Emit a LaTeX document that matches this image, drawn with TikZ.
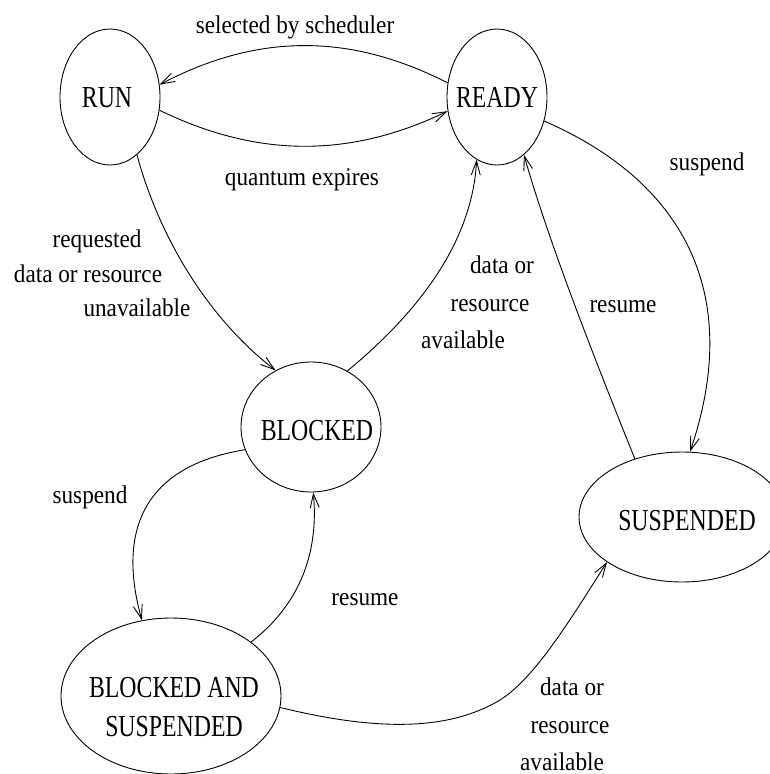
\documentclass[tikz,border=0pt]{standalone}
\usepackage{fontspec}
\setmainfont{Liberation Serif}
\newfontfamily\nodefont[FakeStretch=0.78]{Liberation Serif}
\newfontfamily\labfont[FakeStretch=0.91]{Liberation Serif}
\usetikzlibrary{shapes.geometric,arrows.meta}
\newcommand{\nt}[3]{\makebox[0pt]{\kern#1\relax\raisebox{#2}[0pt][0pt]{#3}\kern-#1\relax}}
\begin{document}
\begin{tikzpicture}[x=1pt,y=-1pt,line width=0.9pt,
  state/.style={ellipse,draw,inner sep=0pt,font=\nodefont\fontsize{30.5}{39}\selectfont},
  lab/.style={font=\labfont\fontsize{25.5}{30}\selectfont,inner sep=0pt,anchor=base},
  arr/.style={-{Straight Barb[length=14pt,width=9pt]}}]
\useasboundingbox (0,0) rectangle (769,774);
\node[state,minimum width=100pt,minimum height=136pt] (run) at (110,97) {\nt{-3pt}{-10pt}{RUN}};
\node[state,minimum width=100pt,minimum height=136pt] (ready) at (497,97) {\nt{0pt}{-10pt}{READY}};
\node[state,minimum width=140pt,minimum height=130pt] (blocked) at (311,427) {\nt{6pt}{-13pt}{BLOCKED}};
\node[state,minimum width=206pt,minimum height=130pt] (susp) at (682,517) {\nt{5pt}{-13pt}{SUSPENDED}};
\node[state,minimum width=220pt,minimum height=156pt] (bs) at (171,696) {\nt{3pt}{-1pt}{\begin{tabular}[t]{@{}c@{}}BLOCKED AND\\SUSPENDED\end{tabular}}};

\draw[arr] (run.-15.4) .. controls (258,158) and (350,158) .. (ready.196.4);
\draw[arr] (ready.164.6) .. controls (350,33) and (258,33) .. (run.14.8);
\draw[arr] (run.-65.6) .. controls (160,240) and (210,320) .. (blocked.122.2);
\draw[arr] (blocked.57.8) .. controls (415,315) and (472,245) .. (ready.-108);
\draw[arr] (ready.-27.4) .. controls (680,180) and (745,290) .. (susp.83);
\draw[arr] (susp.129.2) .. controls (595,360) and (548,240) .. (ready.-65.5);
\draw[arr] (blocked.199.4) .. controls (120,470) and (125,560) .. (bs.111.9);
\draw[arr] (bs.34) .. controls (290,612) and (320,565) .. (blocked.-88.3);
\draw[arr] (bs.-6.8) .. controls (380,732) and (450,730) .. (500,700) .. controls (535,678) and (570,620) .. (susp.211.3);

\node[lab] (l1) at (295,33) {selected by scheduler};
\node[lab] (l2) at (302,185) {quantum expires};
\node[lab] (l3) at (707,170) {suspend};
\node[lab] (l4) at (97,247) {requested};
\node[lab] (l5) at (88,282) {data or resource};
\node[lab] (l6) at (137,316) {unavailable};
\node[lab] (l7) at (502,273) {data or};
\node[lab] (l8) at (490,311) {resource};
\node[lab] (l9) at (463,348) {available};
\node[lab] (l10) at (623,312) {resume};
\node[lab] (l11) at (90,503) {suspend};
\node[lab] (l12) at (365,605) {resume};
\node[lab] (l13) at (572,695) {data or};
\node[lab] (l14) at (570,733) {resource};
\node[lab] (l15) at (562,770) {available};
\end{tikzpicture}
\end{document}
